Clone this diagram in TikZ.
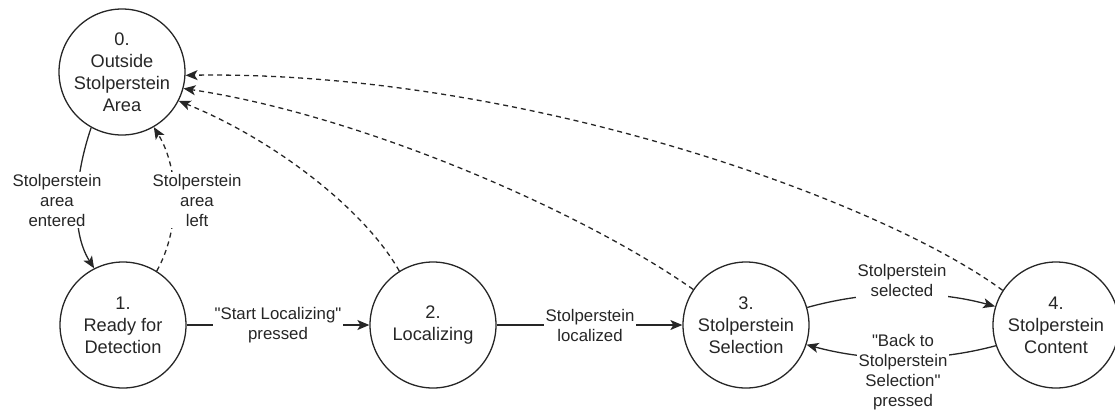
\documentclass[tikz,border=0pt]{standalone}
\usepackage{fontspec}
\setmainfont{Liberation Sans}
\usetikzlibrary{arrows.meta}
\colorlet{ink}{black!85}
\begin{document}
\begin{tikzpicture}[x=1pt,y=-1pt,
  state/.style={circle,draw=ink,line width=1.3pt,minimum size=126pt,inner sep=0pt,
    align=center,text=ink,font=\fontsize{18.2}{22}\selectfont},
  lbl/.style={fill=white,align=center,inner sep=2pt,text=ink,
    font=\fontsize{16.8}{20}\selectfont},
  trans/.style={draw=ink,line width=1.3pt,-{Stealth[length=12pt,width=10pt,inset=3pt]}},
  back/.style={trans,dash pattern=on 5pt off 4pt}]
\useasboundingbox (0,0) rectangle (1115,410);

% states
\node[state] (s0) at (122,72)   {0.\\Outside\\Stolperstein\\Area};
\node[state] (s1) at (123,325)  {1.\\Ready for\\Detection};
\node[state] (s2) at (433,325)  {2.\\Localizing};
\node[state] (s3) at (746,325)  {3.\\Stolperstein\\Selection};
\node[state] (s4) at (1056,325) {4.\\Stolperstein\\Content};

% forward transitions
\draw[trans] (s0.241) .. controls (75,175) and (70,230) .. (s1.117);
\draw[trans] (s1) -- (s2);
\draw[trans] (s2) -- (s3);
\draw[trans] (s3.16) .. controls (870,290) and (935,290) .. (s4.163);
\draw[trans] (s4.199) .. controls (935,362) and (870,362) .. (s3.-18);

% leaving the area (dashed)
\draw[back] (s1.58) .. controls (180,230) and (180,170) .. (s0.-60);
\draw[back] (s2.122) .. controls (365,210) and (275,140) .. (s0.-27);
\draw[back] (s3.146) .. controls (580,210) and (360,115) .. (s0.-15);
\draw[back] (s4.147) .. controls (880,200) and (520,70) .. (s0.-3);

% transition labels
\node[lbl] (l01) at (57,200)  {Stolperstein\\area\\entered};
\node[lbl] (l10) at (197,200) {Stolperstein\\area\\left};
\node[lbl] (l12) at (278,325) {\textquotedbl Start Localizing\textquotedbl\\pressed};
\node[lbl] (l23) at (590,325) {Stolperstein\\localized};
\node[lbl] (l34) at (902,280) {Stolperstein\\selected};
\node[lbl] (l43) at (903,372) {\textquotedbl Back to\\Stolperstein\\Selection\textquotedbl\\pressed};
\end{tikzpicture}
\end{document}
